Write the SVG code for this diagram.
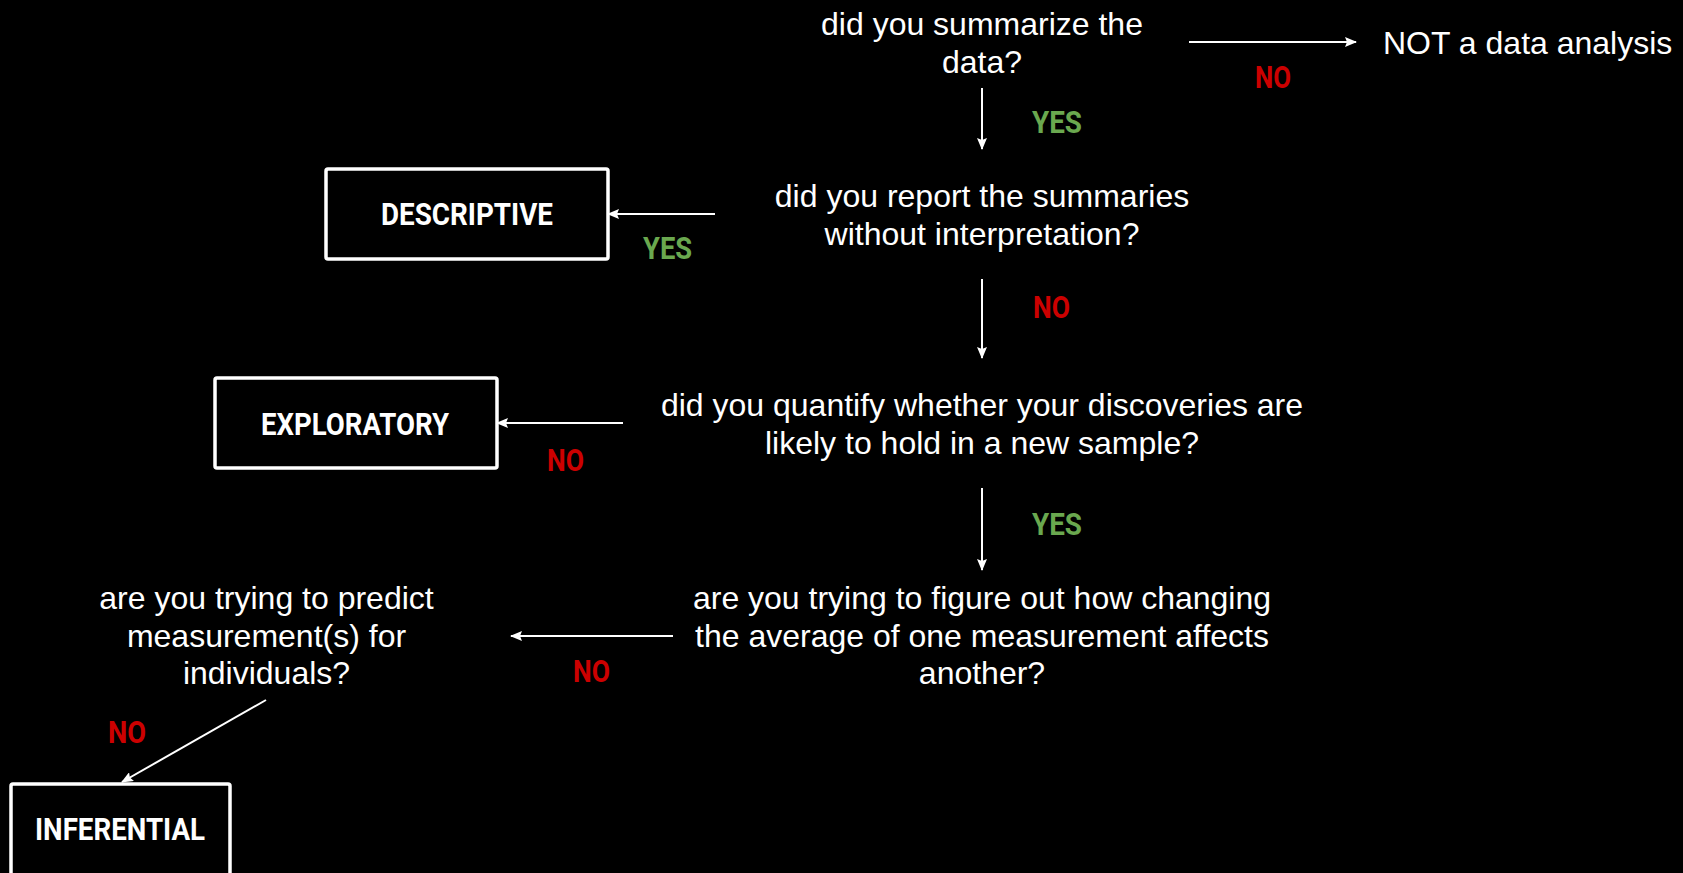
<svg xmlns="http://www.w3.org/2000/svg" width="1683" height="873" viewBox="0 0 1683 873">
  <defs>
    <marker id="arrow" viewBox="0 0 12 10" refX="11" refY="5" markerWidth="12" markerHeight="10" markerUnits="userSpaceOnUse" orient="auto">
      <path d="M0,0 L12,5 L0,10 L2,5 z" fill="#ffffff"/>
    </marker>
    <style>
      .q { font-family: "Liberation Sans", Arial, sans-serif; font-size: 32px; fill: #ffffff; text-anchor: middle; }
      .plain { font-family: "Liberation Sans", Arial, sans-serif; font-size: 32px; fill: #ffffff; }
      .lbl { font-family: Roboto, "Liberation Sans", sans-serif; font-weight: bold; font-size: 31px; }
      .yes { fill: #6aa84f; }
      .no { fill: #cc0000; }
      .box { fill: #000000; stroke: #ffffff; stroke-width: 3.5; }
      .boxtext { font-family: Roboto, "Liberation Sans", sans-serif; font-weight: bold; font-size: 31px; fill: #ffffff; }
      .edge { stroke: #ffffff; stroke-width: 2; fill: none; marker-end: url(#arrow); }
    </style>
  </defs>

  <rect x="0" y="0" width="1683" height="873" fill="#000000"/>

  <!-- connectors and their answer labels -->
  <g id="connectors">
    <line class="edge" x1="1189" y1="42" x2="1356" y2="42"/>
    <line class="edge" x1="982" y1="88" x2="982" y2="149"/>
    <line class="edge" x1="715" y1="214" x2="608" y2="214"/>
    <line class="edge" x1="982" y1="279" x2="982" y2="358"/>
    <line class="edge" x1="623" y1="423" x2="497" y2="423"/>
    <line class="edge" x1="982" y1="488" x2="982" y2="570"/>
    <line class="edge" x1="673" y1="636" x2="511" y2="636"/>
    <line class="edge" x1="266" y1="700" x2="122" y2="782"/>

    <text class="lbl no" x="1255" y="88" textLength="36" lengthAdjust="spacingAndGlyphs">NO</text>
    <text class="lbl yes" x="1032" y="133" textLength="50" lengthAdjust="spacingAndGlyphs">YES</text>
    <text class="lbl yes" x="643" y="259" textLength="49" lengthAdjust="spacingAndGlyphs">YES</text>
    <text class="lbl no" x="1033" y="318" textLength="37" lengthAdjust="spacingAndGlyphs">NO</text>
    <text class="lbl no" x="547" y="471" textLength="37" lengthAdjust="spacingAndGlyphs">NO</text>
    <text class="lbl yes" x="1032" y="535" textLength="50" lengthAdjust="spacingAndGlyphs">YES</text>
    <text class="lbl no" x="573" y="682" textLength="37" lengthAdjust="spacingAndGlyphs">NO</text>
    <text class="lbl no" x="108" y="743" textLength="38" lengthAdjust="spacingAndGlyphs">NO</text>
  </g>

  <!-- question nodes -->
  <g id="q-summarize">
    <text class="q" x="982" y="35">did you summarize the</text>
    <text class="q" x="982" y="72.5">data?</text>
  </g>

  <g id="not-analysis">
    <text class="plain" x="1383" y="54">NOT a data analysis</text>
  </g>

  <g id="q-report">
    <text class="q" x="982" y="207">did you report the summaries</text>
    <text class="q" x="982" y="244.5">without interpretation?</text>
  </g>

  <g id="q-quantify">
    <text class="q" x="982" y="416">did you quantify whether your discoveries are</text>
    <text class="q" x="982" y="453.5">likely to hold in a new sample?</text>
  </g>

  <g id="q-average">
    <text class="q" x="982" y="609">are you trying to figure out how changing</text>
    <text class="q" x="982" y="646.5">the average of one measurement affects</text>
    <text class="q" x="982" y="684">another?</text>
  </g>

  <g id="q-predict">
    <text class="q" x="266.5" y="609">are you trying to predict</text>
    <text class="q" x="266.5" y="646.5">measurement(s) for</text>
    <text class="q" x="266.5" y="684">individuals?</text>
  </g>

  <!-- outcome boxes -->
  <g id="descriptive">
    <rect class="box" x="326" y="169" width="282" height="90" rx="2"/>
    <text class="boxtext" x="381" y="225" textLength="172" lengthAdjust="spacingAndGlyphs">DESCRIPTIVE</text>
  </g>

  <g id="exploratory">
    <rect class="box" x="215" y="378" width="282" height="90" rx="2"/>
    <text class="boxtext" x="261" y="435" textLength="188" lengthAdjust="spacingAndGlyphs">EXPLORATORY</text>
  </g>

  <g id="inferential">
    <rect class="box" x="11" y="784" width="219" height="110" rx="2"/>
    <text class="boxtext" x="35" y="840" textLength="170" lengthAdjust="spacingAndGlyphs">INFERENTIAL</text>
  </g>
</svg>
